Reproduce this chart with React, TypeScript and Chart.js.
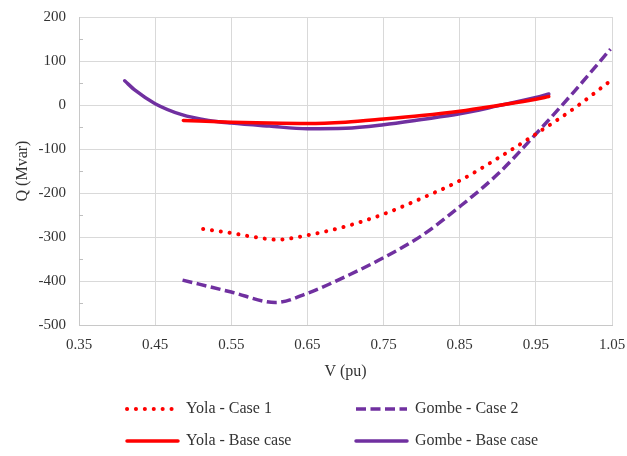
import React, { useEffect, useRef } from 'react';
import { Chart, registerables } from 'chart.js';

Chart.register(...registerables);

// Axis ticks
const X_TICKS = [0.35, 0.45, 0.55, 0.65, 0.75, 0.85, 0.95, 1.05];
const Y_MIN = -500;
const Y_MAX = 200;
const Y_STEP = 100;
const Y_MINOR = [150, 50, -50, -150, -250, -350, -450];

// Q–V curves: voltage (pu) and reactive power (Mvar)
const YOLA_CASE1_V = [0.513, 0.55, 0.58, 0.61, 0.65, 0.7, 0.75, 0.8, 0.85, 0.9, 0.95, 1.0, 1.048];
const YOLA_CASE1_Q = [-282, -291, -300, -306, -296, -276, -248, -212, -172, -121, -66, -8, 55];

const GOMBE_CASE2_V = [0.486, 0.55, 0.608, 0.65, 0.7, 0.75, 0.8, 0.85, 0.9, 0.95, 1.0, 1.048];
const GOMBE_CASE2_Q = [-398, -425, -449, -428, -390, -347, -297, -231, -157, -66, 30, 127];

const YOLA_BASE_V = [0.487, 0.55, 0.6, 0.65, 0.7, 0.75, 0.8, 0.85, 0.9, 0.95, 0.967];
const YOLA_BASE_Q = [-35, -39, -41, -42, -39, -32, -24, -14, -1, 13, 19];

const GOMBE_BASE_V = [0.41, 0.424, 0.45, 0.485, 0.52, 0.55, 0.6, 0.65, 0.7, 0.75, 0.8, 0.85, 0.9, 0.95, 0.967];
const GOMBE_BASE_Q = [55, 33, 3, -22, -35, -41, -48, -54, -53, -45, -33, -20, -2, 17, 25];

const SERIES_NAMES = ['Yola - Case 1', 'Gombe - Case 2', 'Yola - Base case', 'Gombe - Base case'];

const X_TITLE = 'V (pu)';
const Y_TITLE = 'Q (Mvar)';

const RED = '#ff0000';
const PURPLE = '#7030a0';
const GRID = '#d9d9d9';
const TEXT = '#333333';
const FONT_FAMILY = '"Liberation Serif", "Times New Roman", serif';

const toPoints = (xs: number[], ys: number[]) => xs.map((x, i) => ({ x, y: ys[i] }));

// Keep the plot box fixed: label overhang should not shrink it.
const clearScalePadding = (scale: any) => {
  scale.paddingLeft = 0;
  scale.paddingRight = 0;
  scale.paddingTop = 0;
  scale.paddingBottom = 0;
};

// Draws minor y ticks, axis titles and a two-column legend below the plot.
const decorPlugin = {
  id: 'qvDecor',
  afterDraw(chart: any) {
    const { ctx, chartArea, scales } = chart;
    const yScale = scales.y;
    ctx.save();

    // minor tick marks on the value axis
    ctx.strokeStyle = '#bfbfbf';
    ctx.lineWidth = 1;
    Y_MINOR.forEach((v) => {
      const py = Math.round(yScale.getPixelForValue(v)) + 0.5;
      ctx.beginPath();
      ctx.moveTo(chartArea.left, py);
      ctx.lineTo(chartArea.left + 4, py);
      ctx.stroke();
    });

    // axis titles
    ctx.fillStyle = TEXT;
    ctx.font = `16px ${FONT_FAMILY}`;
    ctx.textAlign = 'center';
    ctx.textBaseline = 'middle';
    ctx.fillText(X_TITLE, (chartArea.left + chartArea.right) / 2, 372);
    ctx.save();
    ctx.translate(23, (chartArea.top + chartArea.bottom) / 2);
    ctx.rotate(-Math.PI / 2);
    ctx.fillText(Y_TITLE, 0, 0);
    ctx.restore();

    // legend
    const slots = [
      { x: 127, y: 409 },
      { x: 356, y: 409 },
      { x: 127, y: 441 },
      { x: 356, y: 441 },
    ];
    chart.data.datasets.forEach((ds: any, i: number) => {
      const s = slots[i];
      ctx.save();
      ctx.strokeStyle = ds.borderColor;
      ctx.lineWidth = ds.borderWidth;
      ctx.lineCap = ds.borderCapStyle || 'butt';
      ctx.setLineDash(ds.borderDash || []);
      ctx.beginPath();
      ctx.moveTo(s.x, s.y);
      ctx.lineTo(s.x + 51, s.y);
      ctx.stroke();
      ctx.restore();
      ctx.fillStyle = TEXT;
      ctx.textAlign = 'left';
      ctx.textBaseline = 'middle';
      ctx.fillText(ds.label, s.x + 59, s.y);
    });

    ctx.restore();
  },
};

export default function App() {
  const canvasRef = useRef<HTMLCanvasElement | null>(null);

  useEffect(() => {
    const canvas = canvasRef.current;
    if (!canvas) return;

    const chart = new Chart(canvas, {
      type: 'line',
      data: {
        datasets: [
          {
            label: SERIES_NAMES[0],
            data: toPoints(YOLA_CASE1_V, YOLA_CASE1_Q),
            borderColor: RED,
            borderWidth: 4,
            borderDash: [0.1, 8.8],
            borderCapStyle: 'round',
            pointRadius: 0,
            cubicInterpolationMode: 'monotone',
          },
          {
            label: SERIES_NAMES[1],
            data: toPoints(GOMBE_CASE2_V, GOMBE_CASE2_Q),
            borderColor: PURPLE,
            borderWidth: 3.5,
            borderDash: [10, 4.5],
            borderCapStyle: 'butt',
            pointRadius: 0,
            cubicInterpolationMode: 'monotone',
          },
          {
            label: SERIES_NAMES[2],
            data: toPoints(YOLA_BASE_V, YOLA_BASE_Q),
            borderColor: RED,
            borderWidth: 3.5,
            borderCapStyle: 'round',
            pointRadius: 0,
            cubicInterpolationMode: 'monotone',
          },
          {
            label: SERIES_NAMES[3],
            data: toPoints(GOMBE_BASE_V, GOMBE_BASE_Q),
            borderColor: PURPLE,
            borderWidth: 3.5,
            borderCapStyle: 'round',
            pointRadius: 0,
            cubicInterpolationMode: 'monotone',
          },
        ],
      },
      options: {
        responsive: false,
        animation: false,
        layout: { padding: { left: 0, top: 17, right: 15, bottom: 0 } },
        plugins: {
          legend: { display: false },
          tooltip: { enabled: false },
        },
        scales: {
          x: {
            type: 'linear',
            min: X_TICKS[0],
            max: X_TICKS[X_TICKS.length - 1],
            afterBuildTicks: (scale: any) => {
              scale.ticks = X_TICKS.map((v) => ({ value: v }));
            },
            afterFit: (scale: any) => {
              scale.height = 131;
              clearScalePadding(scale);
            },
            grid: { color: GRID, lineWidth: 1, drawTicks: false },
            border: { color: '#c8c8c8', width: 1 },
            ticks: {
              padding: 11,
              color: TEXT,
              font: { family: FONT_FAMILY, size: 15 },
              maxRotation: 0,
              autoSkip: false,
              callback: (v: any) => Number(v).toFixed(2),
            },
          },
          y: {
            type: 'linear',
            min: Y_MIN,
            max: Y_MAX,
            afterFit: (scale: any) => {
              scale.width = 79;
              clearScalePadding(scale);
            },
            grid: { color: GRID, lineWidth: 1, drawTicks: false },
            border: { color: '#c8c8c8', width: 1 },
            ticks: {
              stepSize: Y_STEP,
              padding: 13,
              color: TEXT,
              font: { family: FONT_FAMILY, size: 15 },
              callback: (v: any) => String(v),
            },
          },
        },
      },
      plugins: [decorPlugin],
    } as any);

    return () => chart.destroy();
  }, []);

  return (
    <div style={{ position: 'absolute', left: 0, top: 0, width: 627, height: 456, background: '#ffffff' }}>
      <canvas ref={canvasRef} width={627} height={456} style={{ display: 'block' }} />
    </div>
  );
}
